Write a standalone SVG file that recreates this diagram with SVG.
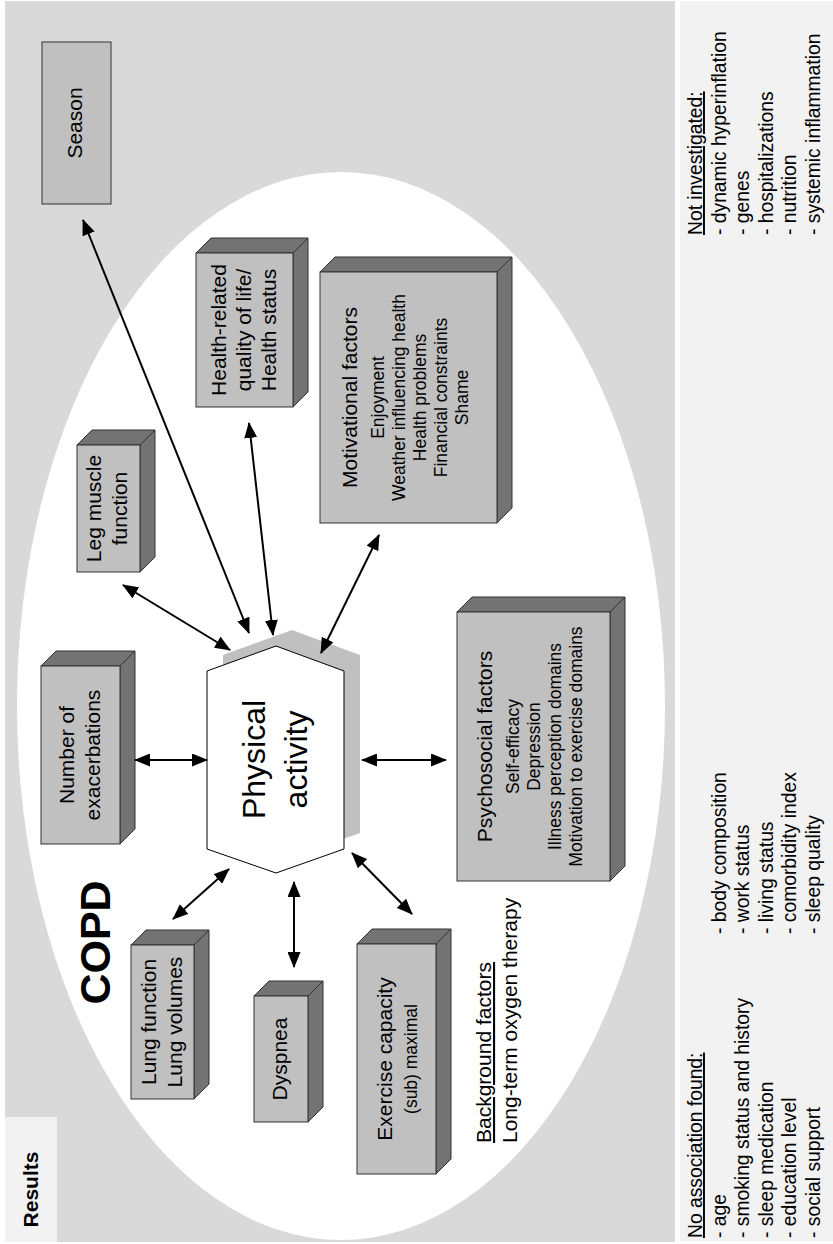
<svg xmlns="http://www.w3.org/2000/svg" width="833" height="1244" viewBox="0 0 833 1244">
<defs>
<marker id="ah" viewBox="0 0 16 13" markerWidth="16" markerHeight="13" refX="15" refY="6.5" orient="auto-start-reverse" markerUnits="userSpaceOnUse">
<path d="M0,0 L16,6.5 L0,13 z" fill="#000"/>
</marker>
</defs>
<style>
text{font-family:"Liberation Sans",Arial,sans-serif;fill:#000}
.f{fill:#c0c0c0;stroke:#333;stroke-width:1}
.d{fill:#737373;stroke:#333;stroke-width:1}
.t21{font-size:21px}
.t17{font-size:17.5px}
.r{font-size:19.3px}
.c{text-anchor:middle}
.con line{stroke:#000;stroke-width:2;marker-start:url(#ah);marker-end:url(#ah)}
</style>
<rect x="0" y="0" width="833" height="1244" fill="#fff"/>
<rect x="5" y="1" width="670" height="1241" fill="#d9d9d9"/>
<rect x="680" y="1" width="153" height="1240" fill="#f2f2f2"/>
<rect x="5" y="1117" width="52" height="125" fill="#f2f2f2"/>
<ellipse cx="341" cy="706" rx="324" ry="534" fill="#fff"/>

<g id="season">
<rect class="f" x="42" y="42" width="69" height="162"/>
<text class="t21 c" transform="translate(82,123) rotate(-90)">Season</text>
</g>

<g id="hrqol">
<polygon class="d" points="196,253 211,238 308,238 293,253"/>
<polygon class="d" points="293,253 308,238 308,392 293,407"/>
<rect class="f" x="196" y="253" width="97" height="154"/>
<text class="t21 c" transform="translate(226,330) rotate(-90)"><tspan x="0" y="0">Health-related</tspan><tspan x="0" y="25">quality of life/</tspan><tspan x="0" y="50">Health status</tspan></text>
</g>

<g id="motivational">
<polygon class="d" points="320,272 335,257 512,257 497,272"/>
<polygon class="d" points="497,272 512,257 512,508 497,523"/>
<rect class="f" x="320" y="272" width="177" height="251"/>
<text class="c" transform="translate(357,397.5) rotate(-90)"><tspan class="t21" x="0" y="0">Motivational factors</tspan><tspan class="t17" x="0" y="27">Enjoyment</tspan><tspan class="t17" x="0" y="48">Weather influencing health</tspan><tspan class="t17" x="0" y="69">Health problems</tspan><tspan class="t17" x="0" y="90">Financial constraints</tspan><tspan class="t17" x="0" y="111">Shame</tspan></text>
</g>

<g id="leg">
<polygon class="d" points="77,445 92,430 155,430 140,445"/>
<polygon class="d" points="140,445 155,430 155,557 140,572"/>
<rect class="f" x="77" y="445" width="63" height="127"/>
<text class="t21 c" transform="translate(101,508.5) rotate(-90)"><tspan x="0" y="0">Leg muscle</tspan><tspan x="0" y="26">function</tspan></text>
</g>

<g id="exacerbations">
<polygon class="d" points="41,666 56,651 135,651 120,666"/>
<polygon class="d" points="120,666 135,651 135,829 120,844"/>
<rect class="f" x="41" y="666" width="79" height="178"/>
<text class="t21 c" transform="translate(74,755) rotate(-90)"><tspan x="0" y="0">Number of</tspan><tspan x="0" y="26">exacerbations</tspan></text>
</g>

<g id="psychosocial">
<polygon class="d" points="457,612 472,597 625,597 610,612"/>
<polygon class="d" points="610,612 625,597 625,866 610,881"/>
<rect class="f" x="457" y="612" width="153" height="269"/>
<text class="c" transform="translate(492,746.5) rotate(-90)"><tspan class="t21" x="0" y="0">Psychosocial factors</tspan><tspan class="t17" x="0" y="27">Self-efficacy</tspan><tspan class="t17" x="0" y="48">Depression</tspan><tspan class="t17" x="0" y="69">Illness perception domains</tspan><tspan class="t17" x="0" y="90">Motivation to exercise domains</tspan></text>
</g>

<g id="lung">
<polygon class="d" points="131,945 146,930 209,930 194,945"/>
<polygon class="d" points="194,945 209,930 209,1084 194,1099"/>
<rect class="f" x="131" y="945" width="63" height="154"/>
<text class="t21 c" transform="translate(156,1022) rotate(-90)"><tspan x="0" y="0">Lung function</tspan><tspan x="0" y="26">Lung volumes</tspan></text>
</g>

<g id="dyspnea">
<polygon class="d" points="254,996 269,981 323,981 308,996"/>
<polygon class="d" points="308,996 323,981 323,1107 308,1122"/>
<rect class="f" x="254" y="996" width="54" height="126"/>
<text class="t21 c" transform="translate(287,1059) rotate(-90)">Dyspnea</text>
</g>

<g id="exercise">
<polygon class="d" points="357,944 372,929 451,929 436,944"/>
<polygon class="d" points="436,944 451,929 451,1159 436,1174"/>
<rect class="f" x="357" y="944" width="79" height="230"/>
<text class="c" transform="translate(392,1059) rotate(-90)"><tspan class="t21" x="0" y="0">Exercise capacity</tspan><tspan class="t17" x="0" y="25">(sub) maximal</tspan></text>
</g>

<g id="physical-activity">
<polygon points="223,655 292,630 360,655 360,833 292,857 223,833" fill="#c0c0c0"/>
<polygon points="207,671 276,646 344,671 344,849 276,873 207,849" fill="#fff" stroke="#000" stroke-width="1"/>
<text class="c" style="font-size:32px" transform="translate(265,759.5) rotate(-90)"><tspan x="0" y="0">Physical</tspan><tspan x="0" y="42">activity</tspan></text>
</g>

<g id="labels">
<text class="c" style="font-size:43px;font-weight:bold" transform="translate(110,942.5) rotate(-90)">COPD</text>
<text class="c" style="font-size:21px;font-weight:bold" transform="translate(38,1189.5) rotate(-90)">Results</text>
<text class="t21" transform="translate(491,1143) rotate(-90)"><tspan x="0" y="0" text-decoration="underline">Background factors</tspan><tspan x="0" y="26">Long-term oxygen therapy</tspan></text>
</g>

<g id="not-investigated">
<text class="r" transform="translate(702,235) rotate(-90)"><tspan x="0" y="0" text-decoration="underline">Not investigated:</tspan><tspan x="0" y="23.5">- dynamic hyperinflation</tspan><tspan x="0" y="47">- genes</tspan><tspan x="0" y="70.5">- hospitalizations</tspan><tspan x="0" y="94">- nutrition</tspan><tspan x="0" y="117.5">- systemic inflammation</tspan></text>
</g>

<g id="no-association">
<text class="r" transform="translate(702,1238) rotate(-90)"><tspan x="0" y="0" text-decoration="underline">No association found:</tspan><tspan x="0" y="23.5">- age</tspan><tspan x="0" y="47">- smoking status and history</tspan><tspan x="0" y="70.5">- sleep medication</tspan><tspan x="0" y="94">- education level</tspan><tspan x="0" y="117.5">- social support</tspan></text>
<text class="r" transform="translate(725.5,934) rotate(-90)"><tspan x="0" y="0">- body composition</tspan><tspan x="0" y="23.5">- work status</tspan><tspan x="0" y="47">- living status</tspan><tspan x="0" y="70.5">- comorbidity index</tspan><tspan x="0" y="94">- sleep quality</tspan></text>
</g>

<g id="connectors" class="con">
<line x1="249" y1="633" x2="83" y2="220"/>
<line x1="273" y1="635" x2="249" y2="423"/>
<line x1="321" y1="653" x2="379" y2="535"/>
<line x1="230" y1="650" x2="123" y2="585"/>
<line x1="207" y1="760" x2="135" y2="760"/>
<line x1="362" y1="760" x2="446" y2="760"/>
<line x1="229" y1="869" x2="173" y2="919"/>
<line x1="294" y1="882" x2="294" y2="967"/>
<line x1="352" y1="853" x2="412" y2="914"/>
</g>
</svg>
